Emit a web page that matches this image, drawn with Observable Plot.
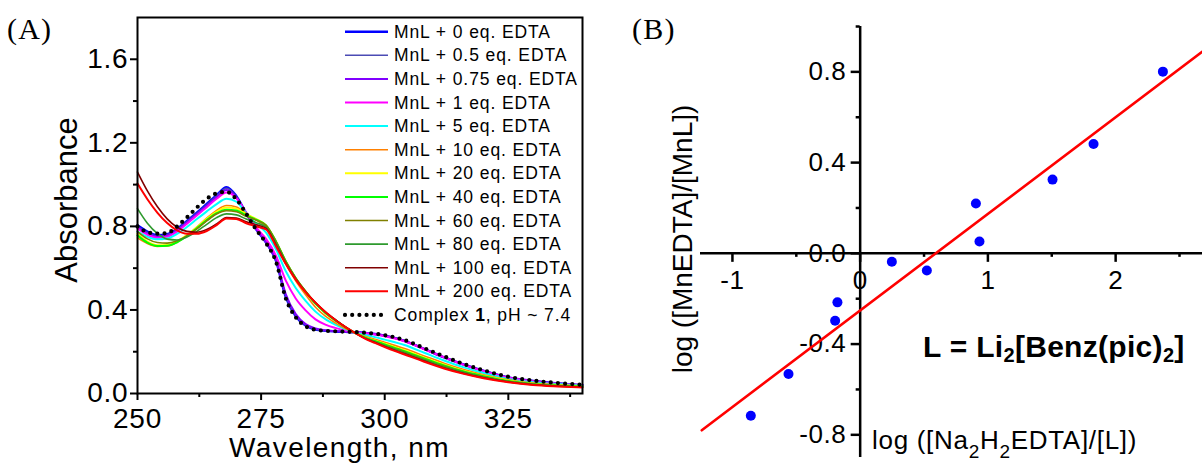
<!DOCTYPE html>
<html>
<head>
<meta charset="utf-8">
<title>MnL + EDTA titration</title>
<script src="https://cdn.jsdelivr.net/npm/d3@7"></script>
<script src="https://cdn.jsdelivr.net/npm/@observablehq/plot@0.6"></script>
<style>
  html, body { margin: 0; padding: 0; background: #fff; overflow: hidden; }
  #figure { position: relative; width: 1202px; height: 463px; overflow: hidden; background: #fff; }
  #figure > div { position: absolute; top: 0; }
  #figure svg { display: block; }
  #overlay { position: absolute; left: 0; top: 0; pointer-events: none; }
</style>
</head>
<body>
<div id="figure">
  <div id="panelA" style="left:0;width:600px"></div>
  <div id="panelB" style="left:600px;width:602px"></div>
</div>
<script>
// ---------- Panel A: absorption spectra of MnL titrated with EDTA ----------
const wavelengths = [250,252,254,256,258,260,262,264,266,268,270,272,274,276,278,280,282,284,286,288,290,292,294,296,298,300,304,308,312,316,320,325,330,335,340];

const eq0   = [0.805,0.775,0.758,0.763,0.788,0.826,0.866,0.908,0.950,0.988,0.945,0.862,0.786,0.722,0.635,0.460,0.370,0.325,0.306,0.300,0.297,0.295,0.293,0.290,0.285,0.277,0.252,0.213,0.173,0.138,0.108,0.077,0.060,0.048,0.040];
const eq05  = [0.800,0.770,0.754,0.760,0.785,0.823,0.862,0.903,0.945,0.982,0.942,0.860,0.786,0.722,0.637,0.465,0.373,0.327,0.308,0.301,0.298,0.296,0.293,0.290,0.285,0.277,0.252,0.213,0.173,0.138,0.108,0.077,0.060,0.048,0.040];
const eq075 = [0.795,0.766,0.750,0.756,0.781,0.819,0.858,0.898,0.939,0.974,0.938,0.860,0.787,0.724,0.640,0.475,0.380,0.332,0.311,0.303,0.299,0.296,0.293,0.290,0.285,0.277,0.252,0.213,0.174,0.139,0.109,0.077,0.060,0.048,0.040];
const eq1   = [0.790,0.760,0.745,0.750,0.775,0.813,0.852,0.892,0.932,0.962,0.935,0.865,0.795,0.740,0.660,0.540,0.455,0.398,0.355,0.330,0.314,0.302,0.293,0.288,0.282,0.274,0.250,0.212,0.173,0.137,0.107,0.075,0.058,0.047,0.040];
const eq5   = [0.775,0.750,0.738,0.742,0.764,0.797,0.835,0.872,0.907,0.932,0.918,0.862,0.812,0.770,0.690,0.585,0.505,0.443,0.392,0.356,0.330,0.309,0.292,0.280,0.270,0.258,0.232,0.195,0.158,0.125,0.098,0.070,0.054,0.045,0.038];
const eq10  = [0.745,0.718,0.704,0.706,0.724,0.757,0.797,0.840,0.877,0.900,0.893,0.862,0.830,0.800,0.720,0.620,0.540,0.473,0.413,0.370,0.338,0.311,0.290,0.274,0.260,0.245,0.215,0.180,0.145,0.115,0.090,0.066,0.050,0.042,0.036];
const eq20  = [0.765,0.727,0.710,0.711,0.728,0.758,0.796,0.836,0.870,0.890,0.885,0.858,0.835,0.805,0.728,0.632,0.552,0.488,0.430,0.386,0.350,0.318,0.290,0.270,0.254,0.238,0.207,0.172,0.138,0.108,0.085,0.062,0.047,0.039,0.034];
const eq40  = [0.757,0.722,0.706,0.707,0.724,0.754,0.791,0.830,0.863,0.880,0.876,0.852,0.832,0.805,0.728,0.632,0.552,0.488,0.430,0.386,0.350,0.318,0.290,0.268,0.251,0.235,0.203,0.168,0.134,0.105,0.083,0.060,0.046,0.038,0.033];
const eq60  = [0.775,0.740,0.723,0.720,0.731,0.754,0.788,0.826,0.859,0.875,0.870,0.848,0.830,0.805,0.728,0.632,0.553,0.489,0.433,0.389,0.352,0.318,0.290,0.266,0.248,0.230,0.198,0.163,0.130,0.102,0.080,0.058,0.045,0.037,0.032];
const eq80  = [0.885,0.815,0.766,0.739,0.735,0.749,0.776,0.810,0.842,0.860,0.855,0.835,0.818,0.795,0.722,0.628,0.550,0.487,0.433,0.389,0.352,0.318,0.290,0.265,0.246,0.228,0.195,0.160,0.127,0.100,0.078,0.057,0.044,0.036,0.031];
const eq100 = [1.060,0.970,0.895,0.836,0.796,0.776,0.772,0.785,0.812,0.842,0.840,0.822,0.808,0.790,0.712,0.622,0.547,0.486,0.435,0.391,0.354,0.320,0.290,0.264,0.244,0.225,0.190,0.155,0.122,0.096,0.075,0.055,0.042,0.035,0.030];
const eq200 = [1.005,0.930,0.866,0.816,0.781,0.765,0.765,0.778,0.806,0.838,0.835,0.815,0.800,0.785,0.705,0.620,0.545,0.485,0.435,0.390,0.352,0.319,0.290,0.263,0.242,0.222,0.187,0.152,0.120,0.094,0.073,0.054,0.041,0.034,0.029];
const complex1 = [0.800,0.772,0.765,0.768,0.800,0.843,0.890,0.932,0.958,0.965,0.930,0.860,0.785,0.720,0.632,0.455,0.365,0.322,0.305,0.300,0.298,0.296,0.294,0.291,0.286,0.279,0.256,0.217,0.178,0.141,0.111,0.080,0.062,0.050,0.042];

const spectraNames = [
  "MnL + 0 eq. EDTA", "MnL + 0.5 eq. EDTA", "MnL + 0.75 eq. EDTA", "MnL + 1 eq. EDTA",
  "MnL + 5 eq. EDTA", "MnL + 10 eq. EDTA", "MnL + 20 eq. EDTA", "MnL + 40 eq. EDTA",
  "MnL + 60 eq. EDTA", "MnL + 80 eq. EDTA", "MnL + 100 eq. EDTA", "MnL + 200 eq. EDTA"
];
const spectraValues = [eq0, eq05, eq075, eq1, eq5, eq10, eq20, eq40, eq60, eq80, eq100, eq200];
const referenceLabel = ["Complex ", "1", ", pH ~ 7.4"];

const xTicksA = [250, 275, 300, 325];
const xMinorA = [262.5, 287.5, 312.5, 337.5];
const yTicksA = [0, 0.4, 0.8, 1.2, 1.6];
const yMinorA = [0.2, 0.6, 1.0, 1.4];

// ---------- Panel B: log-log plot of the competition equilibrium ----------
const logLigandRatio  = [-0.856, -0.561, -0.196, -0.178, 0.248, 0.522, 0.934, 0.906, 1.506, 1.827, 2.370];
const logComplexRatio = [-0.716, -0.532, -0.297, -0.216, -0.037, -0.076, 0.052, 0.220, 0.325, 0.482, 0.801];

const xTicksB = [-1, 0, 1, 2];
const xMinorB = [-0.5, 0.5, 1.5, 2.5];
const yTicksB = [-0.8, -0.4, 0, 0.4, 0.8];
const yMinorB = [-0.6, -0.2, 0.2, 0.6, 1.0];

// ---------- styling ----------
const FONT = '"Liberation Sans", Arial, Helvetica, sans-serif';
const SERIF = '"Liberation Serif", "Times New Roman", serif';
const spectraColors = ["#0000ff", "#4b4bb4", "#8000ff", "#ff00ff", "#00ffff", "#ff8000",
                       "#ffff00", "#00ff00", "#808000", "#2e9a2e", "#800000", "#ff0000"];
const spectraWidths = [2.4, 1.6, 2, 2, 2, 1.6, 2, 2, 1.6, 1.6, 1.6, 2];
const dotted = {stroke: "#000", strokeWidth: 4.2, strokeDasharray: "0 7.2", strokeLinecap: "round"};

// ---------- Panel A ----------
const A = {width: 600, height: 463, top: 17, right: 18, bottom: 70, left: 137};
const spectra = spectraNames.flatMap((name, s) =>
  wavelengths.map((wl, i) => ({name, wl, abs: spectraValues[s][i]})));
const reference = wavelengths.map((wl, i) => ({wl, abs: complex1[i]}));

const plotA = Plot.plot({
  width: A.width, height: A.height,
  marginTop: A.top, marginRight: A.right, marginBottom: A.bottom, marginLeft: A.left,
  x: {domain: [250, 340]},
  y: {domain: [0, 1.8]},
  color: {domain: spectraNames, range: spectraColors},
  style: {fontFamily: FONT, fontSize: "28px", letterSpacing: "0.8px", color: "#000", background: "transparent", overflow: "visible"},
  marks: [
    ...spectraNames.map((name, s) =>
      Plot.line(spectra.filter(d => d.name === name),
        {x: "wl", y: "abs", stroke: "name", strokeWidth: spectraWidths[s], curve: "monotone-x"})),
    Plot.line(reference, {x: "wl", y: "abs", ...dotted, curve: "monotone-x"}),
    Plot.frame({stroke: "#000", strokeWidth: 2}),
    Plot.axisX(xTicksA, {tickSize: 7, tickPadding: 8, strokeWidth: 2, fontSize: 28, label: null}),
    Plot.axisX(xMinorA, {tickSize: 4, strokeWidth: 2, fill: "none", label: null}),
    Plot.axisY(yTicksA, {tickSize: 7, tickPadding: 2, strokeWidth: 2, fontSize: 28, tickFormat: d => d.toFixed(1), label: null}),
    Plot.axisY(yMinorA, {tickSize: 4, strokeWidth: 2, fill: "none", label: null})
  ]
});
document.getElementById("panelA").append(plotA);

// ---------- Panel B ----------
const B = {width: 602, height: 463, top: 26, right: 0, bottom: 6, left: 100};
const xDomainB = [-1.25, 2.68];
const yDomainB = [-0.9, 1.0];
const innerWB = B.width - B.left - B.right;
const innerHB = B.height - B.top - B.bottom;
// axes cross at the origin: shift the frame-anchored axes onto x = 0 and y = 0
const originDx = innerWB * (0 - xDomainB[0]) / (xDomainB[1] - xDomainB[0]);
const originDy = innerHB * (yDomainB[1] - 0) / (yDomainB[1] - yDomainB[0]) - innerHB;

const points = logLigandRatio.map((x, i) => ({x, y: logComplexRatio[i]}));
const mx = d3.mean(logLigandRatio), my = d3.mean(logComplexRatio);
const slope = d3.sum(logLigandRatio, (x, i) => (x - mx) * (logComplexRatio[i] - my)) /
              d3.sum(logLigandRatio, x => (x - mx) ** 2);
const intercept = my - slope * mx;
const fitSpan = [-1.24, 2.8];
const fitLine = fitSpan.map(x => ({x, y: intercept + slope * x}));

const plotB = Plot.plot({
  width: B.width, height: B.height,
  marginTop: B.top, marginRight: B.right, marginBottom: B.bottom, marginLeft: B.left,
  x: {domain: xDomainB},
  y: {domain: yDomainB},
  style: {fontFamily: FONT, fontSize: "26px", letterSpacing: "0.5px", color: "#000", background: "transparent", overflow: "visible"},
  marks: [
    Plot.ruleY([0], {stroke: "#000", strokeWidth: 2.5}),
    Plot.ruleX([0], {stroke: "#000", strokeWidth: 2.5}),
    Plot.axisX(xTicksB, {tickSize: 9, tickPadding: 8, strokeWidth: 2.5, fontSize: 26, tickFormat: d => String(d), dy: originDy, label: null}),
    Plot.axisX(xMinorB, {tickSize: 4, strokeWidth: 2.5, fill: "none", dy: originDy, label: null}),
    Plot.axisY(yTicksB, {tickSize: 9, tickPadding: 5, strokeWidth: 2.5, fontSize: 26, tickFormat: d => d.toFixed(1), dx: originDx, label: null}),
    Plot.axisY(yMinorB, {tickSize: 4, strokeWidth: 2.5, fill: "none", dx: originDx, label: null}),
    Plot.line(fitLine, {x: "x", y: "y", stroke: "#ff0000", strokeWidth: 2.6, clip: true}),
    Plot.dot(points, {x: "x", y: "y", r: 5, fill: "#0000ff", stroke: null})
  ]
});
document.getElementById("panelB").append(plotB);

// ---------- titles, panel tags and legend ----------
const overlay = d3.select("#figure").append("svg")
  .attr("id", "overlay").attr("width", 1202).attr("height", 463)
  .style("font-family", FONT).attr("fill", "#000");

// text with lowered subscripts: parts = [[text, "sub"|""], ...]
function rich(g, parts, subSize, shift) {
  let lowered = false;
  for (const [t, kind] of parts) {
    const span = g.append("tspan").text(t);
    if (kind === "sub") { span.attr("font-size", subSize).attr("dy", lowered ? 0 : shift); lowered = true; }
    else if (lowered) { span.attr("dy", -shift); lowered = false; }
  }
}

overlay.append("text").attr("x", 7).attr("y", 39)
  .style("font-family", SERIF).attr("font-size", 30).style("letter-spacing", "1.2px").text("(A)");
overlay.append("text").attr("x", 632).attr("y", 39)
  .style("font-family", SERIF).attr("font-size", 30).style("letter-spacing", "1.2px").text("(B)");

overlay.append("text").attr("transform", "translate(77,200) rotate(-90)")
  .attr("text-anchor", "middle").attr("font-size", 31).text("Absorbance");
overlay.append("text").attr("x", 229).attr("y", 457)
  .attr("font-size", 28).style("letter-spacing", "1.4px").text("Wavelength, nm");

// legend of panel A
const legend = overlay.append("g").attr("font-size", 17.5).style("letter-spacing", "0.9px");
const rowY = i => 31.7 + i * 23.6;
spectraNames.forEach((name, s) => {
  legend.append("line").attr("x1", 345).attr("x2", 388).attr("y1", rowY(s)).attr("y2", rowY(s))
    .attr("stroke", spectraColors[s]).attr("stroke-width", spectraWidths[s]);
  legend.append("text").attr("x", 394).attr("y", rowY(s) + 6).text(name);
});
const last = spectraNames.length;
legend.append("line").attr("x1", 345).attr("x2", 388).attr("y1", rowY(last)).attr("y2", rowY(last))
  .attr("stroke", dotted.stroke).attr("stroke-width", dotted.strokeWidth)
  .attr("stroke-dasharray", dotted.strokeDasharray).attr("stroke-linecap", dotted.strokeLinecap);
const refText = legend.append("text").attr("x", 394).attr("y", rowY(last) + 6);
refText.append("tspan").text(referenceLabel[0]);
refText.append("tspan").attr("font-weight", "bold").text(referenceLabel[1]);
refText.append("tspan").text(referenceLabel[2]);

// panel B titles
overlay.append("text").attr("transform", "translate(692,239) rotate(-90)")
  .attr("text-anchor", "middle").attr("font-size", 28).text("log ([MnEDTA]/[MnL])");
rich(overlay.append("text").attr("x", 872).attr("y", 449).attr("font-size", 26).style("letter-spacing", "0.7px"),
  [["log ([Na", ""], ["2", "sub"], ["H", ""], ["2", "sub"], ["EDTA]/[L])", ""]], 19, 9);
rich(overlay.append("text").attr("x", 923).attr("y", 357).attr("font-size", 30)
    .attr("font-weight", "bold").style("letter-spacing", "0.3px"),
  [["L = Li", ""], ["2", "sub"], ["[Benz(pic)", ""], ["2", "sub"], ["]", ""]], 20, 5);
</script>
</body>
</html>
